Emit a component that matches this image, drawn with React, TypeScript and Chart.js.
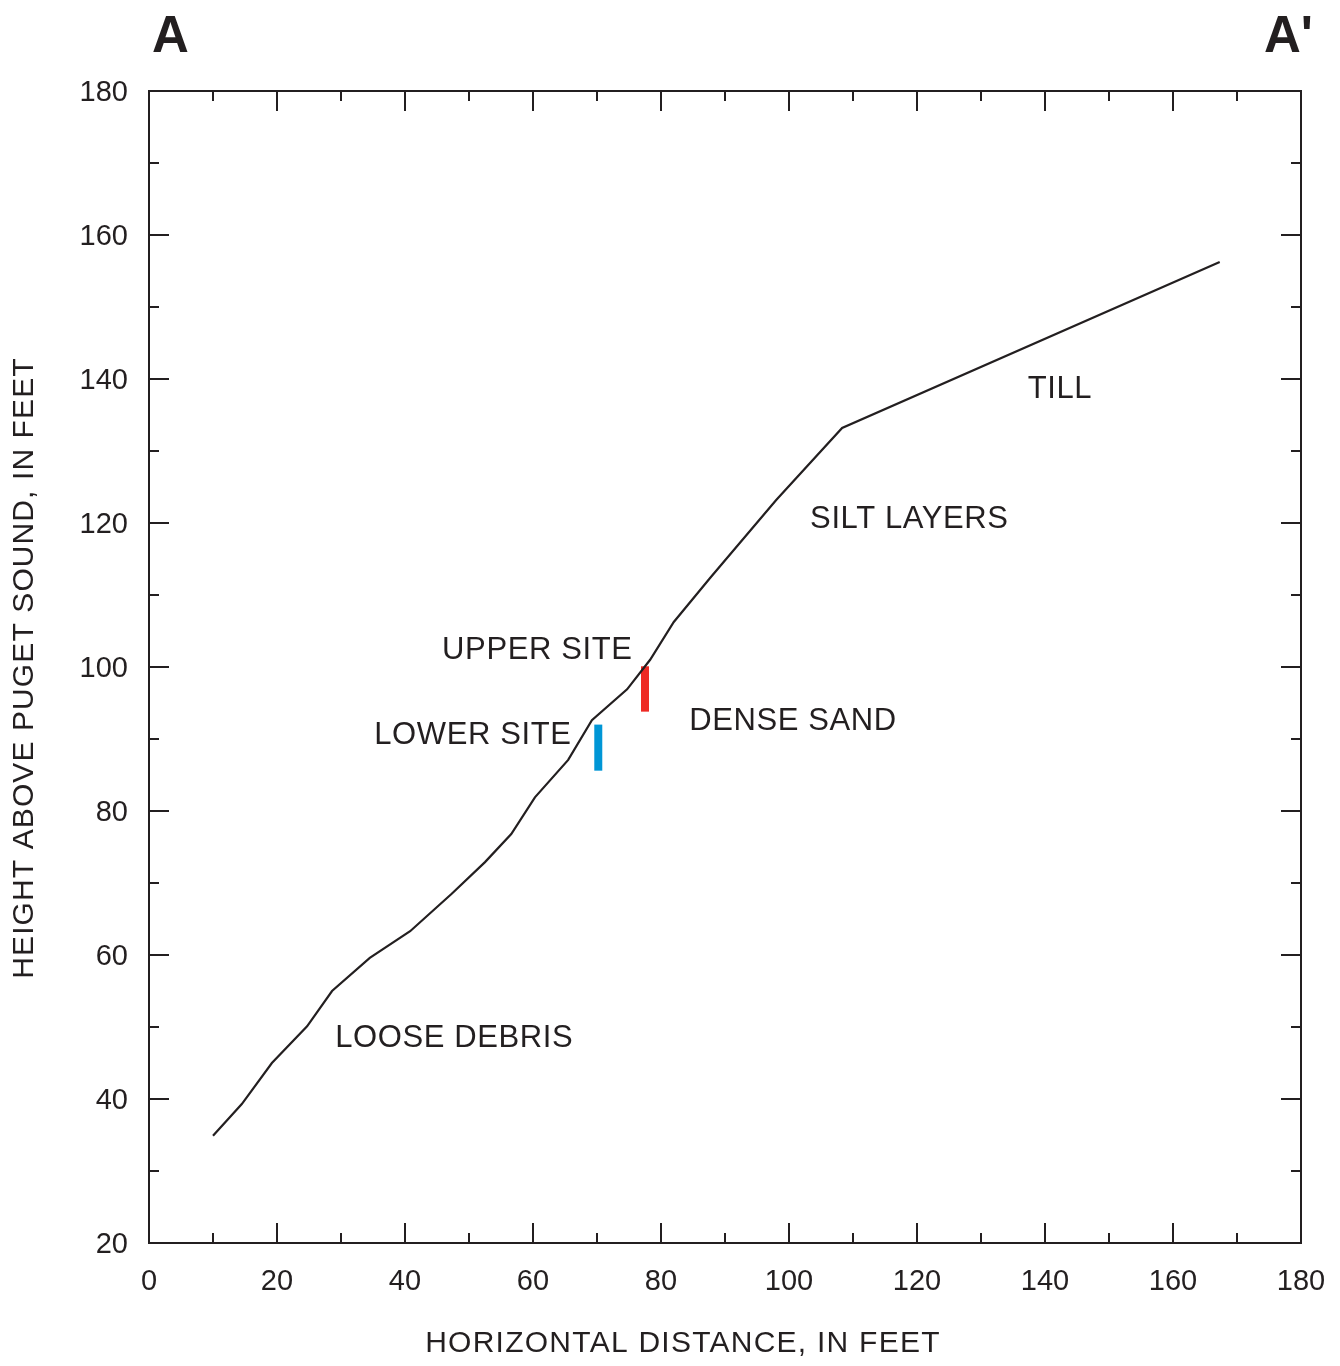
import React, { useEffect, useRef } from "react";
import { Chart, registerables } from "chart.js";

Chart.register(...registerables);

// Ground profile A–A'
const profileX = [10, 14.5, 19.2, 24.7, 28.6, 34.5, 40.8, 47.3, 52.5, 56.6, 60.3, 65.5, 69.2, 74.7, 78.3, 82, 87.7, 98, 108.3, 167.3];
const profileY = [34.9, 39.3, 45, 50.1, 55, 59.6, 63.3, 68.5, 72.9, 76.8, 81.9, 87.1, 92.6, 96.9, 101, 106.25, 112.4, 123.2, 133.2, 156.25];

// Site markers (x, bottom, top)
const upperSite = { x: 77.5, y0: 93.8, y1: 100.1 };
const lowerSite = { x: 70.2, y0: 85.6, y1: 92 };

// Text labels (data coordinates, left-aligned, vertically centred)
const labelTexts = ["TILL", "SILT LAYERS", "UPPER SITE", "DENSE SAND", "LOWER SITE", "LOOSE DEBRIS"];
const labelX = [137.3, 103.3, 45.8, 84.4, 35.2, 29.1];
const labelY = [138.6, 120.5, 102.3, 92.5, 90.5, 48.45];

const xTitle = "HORIZONTAL DISTANCE, IN FEET";
const yTitle = "HEIGHT ABOVE PUGET SOUND, IN FEET";

const INK = "#231f20";
const FONT = "'Liberation Sans', Arial, Helvetica, sans-serif";

export default function App() {
  const ref = useRef<HTMLCanvasElement | null>(null);

  useEffect(() => {
    document.body.style.margin = "0";
    const canvas = ref.current;
    if (!canvas) return;

    const framePlugin = {
      id: "frameTicks",
      afterDraw(chart: any) {
        const { ctx, chartArea } = chart;
        const xs = chart.scales.x;
        const ys = chart.scales.y;
        const { left, right, top, bottom } = chartArea;
        ctx.save();
        ctx.strokeStyle = INK;
        ctx.lineWidth = 2;
        ctx.beginPath();
        ctx.rect(left, top, right - left, bottom - top);
        ctx.stroke();
        ctx.beginPath();
        for (let v = 0; v <= 180; v += 10) {
          const len = v % 20 === 0 ? 20 : 10;
          const px = xs.getPixelForValue(v);
          ctx.moveTo(px, bottom);
          ctx.lineTo(px, bottom - len);
          ctx.moveTo(px, top);
          ctx.lineTo(px, top + len);
        }
        for (let v = 20; v <= 180; v += 10) {
          const len = v % 20 === 0 ? 20 : 10;
          const py = ys.getPixelForValue(v);
          ctx.moveTo(left, py);
          ctx.lineTo(left + len, py);
          ctx.moveTo(right, py);
          ctx.lineTo(right - len, py);
        }
        ctx.stroke();

        ctx.fillStyle = INK;
        // region labels
        ctx.font = `31px ${FONT}`;
        (ctx as any).letterSpacing = "0.6px";
        ctx.textAlign = "left";
        ctx.textBaseline = "middle";
        labelTexts.forEach((t, i) => {
          ctx.fillText(t, xs.getPixelForValue(labelX[i]), ys.getPixelForValue(labelY[i]));
        });

        // axis titles
        ctx.font = `30px ${FONT}`;
        (ctx as any).letterSpacing = "1.25px";
        ctx.textAlign = "center";
        ctx.fillText(xTitle, 683, 1344);
        ctx.save();
        ctx.translate(25, 668);
        ctx.rotate(-Math.PI / 2);
        (ctx as any).letterSpacing = "1.1px";
        ctx.fillText(yTitle, 0, 0);
        ctx.restore();

        // section end letters
        (ctx as any).letterSpacing = "0px";
        ctx.font = `bold 51px ${FONT}`;
        ctx.textBaseline = "alphabetic";
        ctx.textAlign = "left";
        ctx.fillText("A", left + 3, 52);
        ctx.textAlign = "right";
        ctx.fillText("A'", right + 12, 52);
        ctx.restore();
      },
    };

    const chart = new Chart(canvas, {
      type: "scatter",
      data: {
        datasets: [
          {
            label: "Profile",
            data: profileX.map((x, i) => ({ x, y: profileY[i] })),
            showLine: true,
            borderColor: INK,
            borderWidth: 2.2,
            pointRadius: 0,
            tension: 0,
          },
          {
            label: "Upper site",
            data: [{ x: upperSite.x, y: upperSite.y0 }, { x: upperSite.x, y: upperSite.y1 }],
            showLine: true,
            borderColor: "#ee2a24",
            borderWidth: 8,
            borderCapStyle: "butt",
            pointRadius: 0,
          },
          {
            label: "Lower site",
            data: [{ x: lowerSite.x, y: lowerSite.y0 }, { x: lowerSite.x, y: lowerSite.y1 }],
            showLine: true,
            borderColor: "#0096d6",
            borderWidth: 8,
            borderCapStyle: "butt",
            pointRadius: 0,
          },
        ],
      },
      options: {
        responsive: false,
        animation: false,
        layout: { padding: { top: 91, right: 39, left: 0, bottom: 0 } },
        plugins: { legend: { display: false }, tooltip: { enabled: false } },
        scales: {
          x: {
            type: "linear",
            min: 0,
            max: 180,
            grid: { display: false, drawTicks: false },
            border: { display: false },
            ticks: { stepSize: 20, padding: 22, color: INK, font: { family: FONT, size: 29 } },
            title: { display: false },
            afterFit: (s: any) => {
              s.height = 123;
              s.paddingLeft = 0;
              s.paddingRight = 0;
            },
          },
          y: {
            type: "linear",
            min: 20,
            max: 180,
            grid: { display: false, drawTicks: false },
            border: { display: false },
            ticks: { stepSize: 20, padding: 21, labelOffset: 2, color: INK, font: { family: FONT, size: 29 } },
            title: { display: false },
            afterFit: (s: any) => {
              s.width = 149;
              s.paddingTop = 0;
              s.paddingBottom = 0;
            },
          },
        },
      },
      plugins: [framePlugin],
    } as any);

    return () => chart.destroy();
  }, []);

  return (
    <div style={{ width: 1340, height: 1366, background: "#fff" }}>
      <canvas ref={ref} width={1340} height={1366} style={{ display: "block" }} />
    </div>
  );
}
